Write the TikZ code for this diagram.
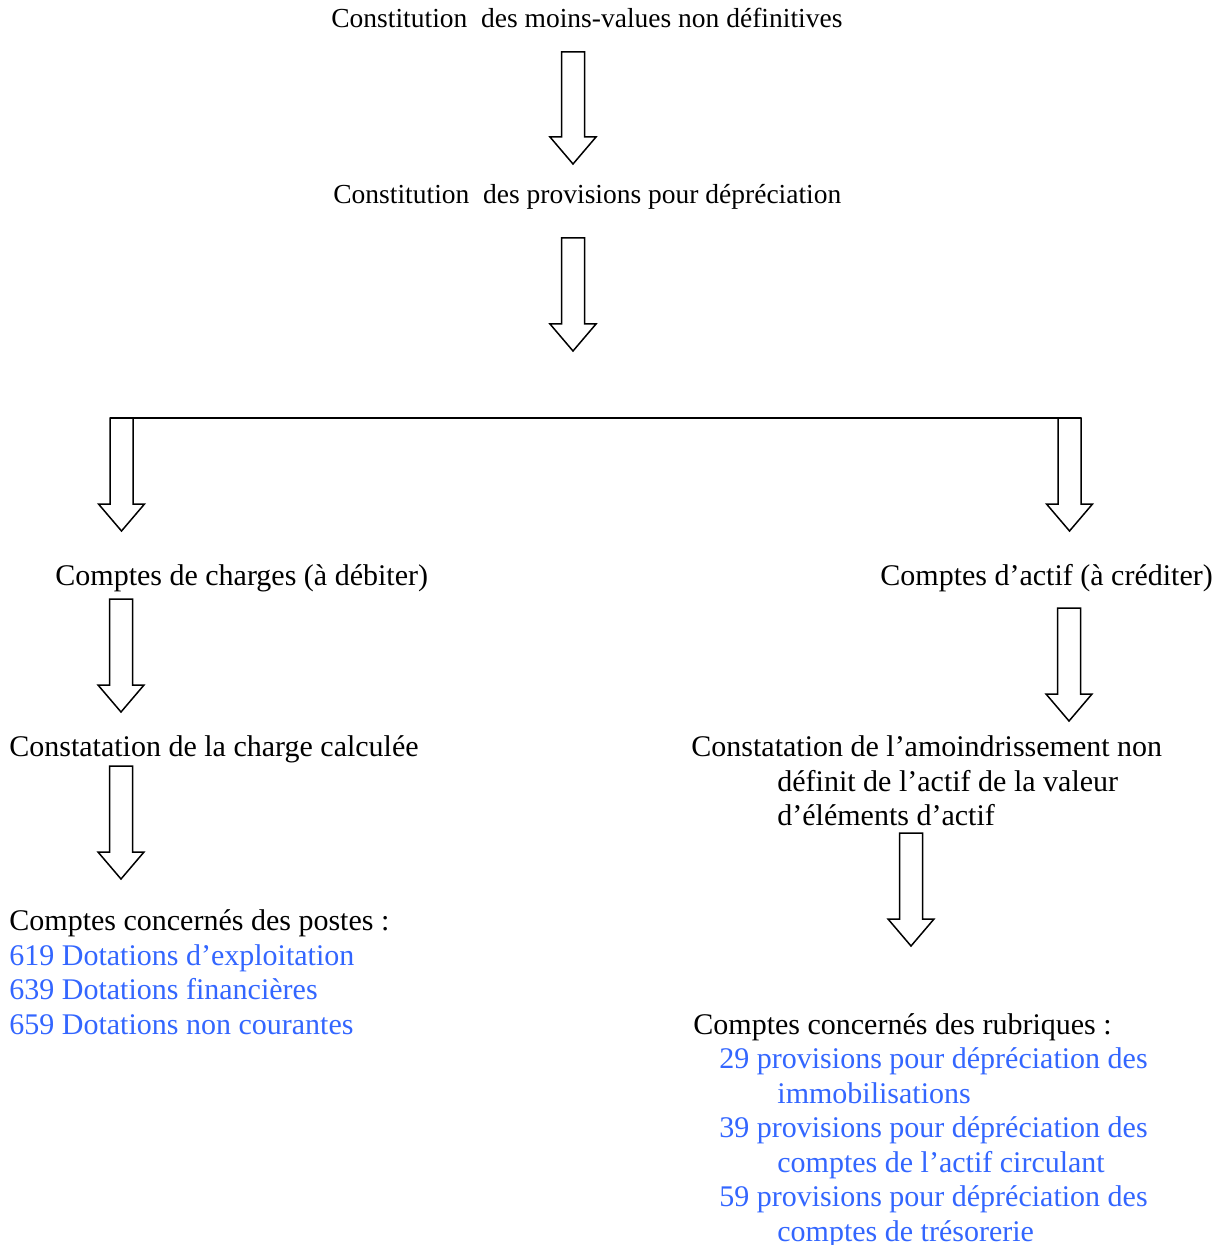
\documentclass[tikz,border=0pt]{standalone}
\usepackage{fontspec}
\setmainfont{Liberation Serif}
\definecolor{lblue}{RGB}{51,102,255}
\tikzset{
  arrowline/.style={draw=black, line width=0.75pt, fill=white, line join=miter},
  txt/.style={anchor=base west, inner sep=0pt, font=\fontsize{15}{17}\selectfont},
  toptxt/.style={anchor=base west, inner sep=0pt, font=\fontsize{13.75}{15}\selectfont},
  bluetxt/.style={txt, text=lblue},
}
\newcommand{\blockarrow}[3]{%
  \draw[arrowline] (#1-11.5,#2) -- (#1+11.5,#2) -- (#1+11.5,#3-27) -- (#1+23,#3-27)
    -- (#1,#3) -- (#1-23,#3-27) -- (#1-11.5,#3-27) -- cycle;}
\begin{document}
\begin{tikzpicture}[x=0.5pt,y=-0.5pt]
\useasboundingbox (0,0) rectangle (1223,1245);
% texts
\node[toptxt] (t1) at (331,27.5) {Constitution\ \ des moins-values non définitives};
\node[toptxt] (t2) at (333,203.5) {Constitution\ \ des provisions pour dépréciation};
\node[txt] (ch) at (55,585) {Comptes de charges (à débiter)};
\node[txt] (ac) at (880,585) {Comptes d’actif (à créditer)};
\node[txt] (cc) at (9,756) {Constatation de la charge calculée};
\node[txt] (ca1) at (691,756) {Constatation de l’amoindrissement non};
\node[txt] (ca2) at (777,791) {définit de l’actif de la valeur};
\node[txt] (ca3) at (777,825) {d’éléments d’actif};
\node[txt] (po) at (9,930) {Comptes concernés des postes :};
\node[bluetxt] (p1) at (9,965) {619 Dotations d’exploitation};
\node[bluetxt] (p2) at (9,999.5) {639 Dotations financières};
\node[bluetxt] (p3) at (9,1034) {659 Dotations non courantes};
\node[txt] (ru) at (693,1034) {Comptes concernés des rubriques :};
\node[bluetxt] (r1) at (719,1068.5) {29 provisions pour dépréciation des};
\node[bluetxt] (r1b) at (777,1103) {immobilisations};
\node[bluetxt] (r2) at (719,1137.5) {39 provisions pour dépréciation des};
\node[bluetxt] (r2b) at (777,1172) {comptes de l’actif circulant};
\node[bluetxt] (r3) at (719,1206.5) {59 provisions pour dépréciation des};
\node[bluetxt] (r3b) at (777,1241) {comptes de trésorerie};
% branch line
\draw[line width=1pt] (110,418) -- (1081,418);
% block arrows
\blockarrow{573}{52}{164}
\blockarrow{573}{238}{351}
\blockarrow{121.5}{418}{531}
\blockarrow{1069.5}{418}{531}
\blockarrow{121}{599}{712}
\blockarrow{1069}{608}{721}
\blockarrow{121}{766}{879}
\blockarrow{911}{833}{946}
\end{tikzpicture}
\end{document}
